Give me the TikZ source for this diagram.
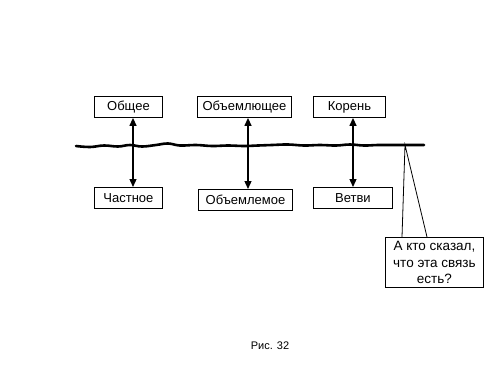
\documentclass[tikz,border=0pt]{standalone}
\usepackage{fontspec}
\setmainfont{Liberation Sans}
\usetikzlibrary{arrows.meta}
\begin{document}
\begin{tikzpicture}[x=1pt,y=-1pt,
  lbox/.style={draw,line width=0.9pt,fill=white,font=\fontsize{13}{15}\selectfont,inner sep=0pt,anchor=north west},
  link/.style={line width=1.3pt,{Triangle[length=8pt,width=7pt]}-{Triangle[length=8pt,width=7pt]}},
  wave/.style={line width=2.6pt,line cap=round}]
\useasboundingbox (0,0) rectangle (500,375);
% wavy line
\draw[wave] plot[smooth,tension=0.7] coordinates {(76,146) (90,147) (104,145.5) (118,146.5) (130,145) (142,146.5) (156,145) (168,143.5) (180,145.5) (196,145) (212,146) (228,145.5) (244,146) (258,145.5) (272,145) (288,144.5) (304,145.5) (320,145) (336,145.5) (350,144.5) (364,145.5) (378,145) (392,145) (424,145)};
% boxes
\node[lbox,minimum width=68pt,minimum height=21pt] (a1) at (94,96) {Общее};
\node[lbox,minimum width=94pt,minimum height=21pt] (b1) at (197,96) {Объемлющее};
\node[lbox,minimum width=72pt,minimum height=21pt] (c1) at (313,96) {Корень};
\node[lbox,minimum width=68pt,minimum height=21pt] (a2) at (94,187) {Частное};
\node[lbox,minimum width=94pt,minimum height=21pt] (b2) at (198,189) {Объемлемое};
\node[lbox,minimum width=79pt,minimum height=21pt] (c2) at (313,187) {Ветви};
% arrows
\draw[link] (a1.south -| 133,0) -- (a2.north -| 133,0);
\draw[link] (b1.south -| 248,0) -- (b2.north -| 248,0);
\draw[link] (c1.south -| 353,0) -- (c2.north -| 353,0);
% callout
\coordinate (tip) at (405,145);
\node[draw,line width=0.9pt,fill=white,minimum width=98pt,minimum height=50pt,inner sep=0pt,anchor=north west,align=center,font=\fontsize{13.5}{16.5}\selectfont] (q) at (385,237) {А кто сказал,\\что эта связь\\есть?};
\draw[line width=0.8pt] (q.north west -| 402,0) -- (tip) -- (q.north west -| 427,0);
% caption
\node[font=\fontsize{11}{13}\selectfont] (cap) at (270,346) {Рис. 32};
\end{tikzpicture}
\end{document}
